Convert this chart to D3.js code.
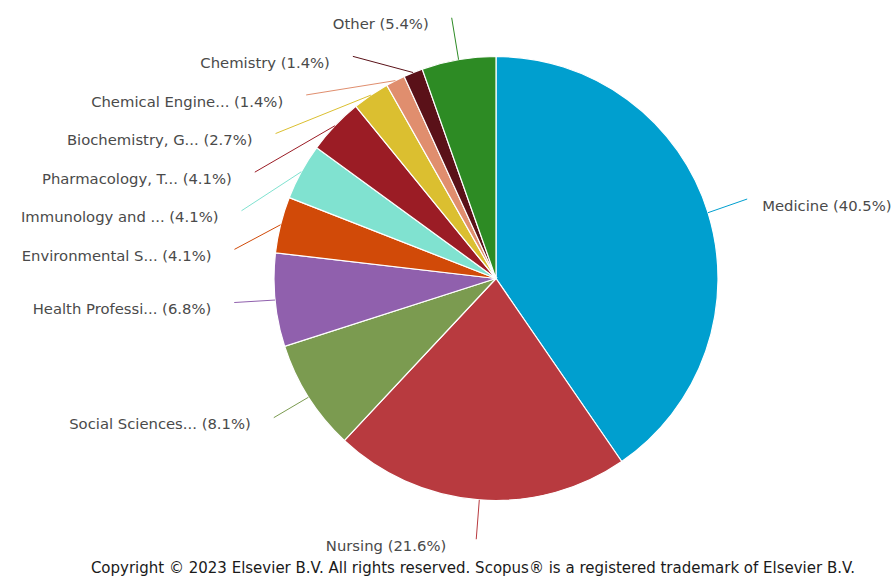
<!DOCTYPE html>
<html><head><meta charset="utf-8">
<script src="https://cdn.jsdelivr.net/npm/d3@7"></script>
<style>body{margin:0;background:#fff;}svg{display:block;}</style>
</head><body>
<svg id="c" width="893" height="576"></svg>
<script>
const labels = ["Medicine","Nursing","Social Sciences...","Health Professi...","Environmental S...","Immunology and ...","Pharmacology, T...","Biochemistry, G...","Chemical Engine...","Chemistry","Other"];
const percents = [40.5,21.6,8.1,6.8,4.1,4.1,4.1,2.7,1.4,1.4,5.4];
const colors = ["#009fcf","#b83a3f","#7b9b50","#9060ad","#d14a08","#80e2d0","#9b1c25","#dbbf30","#e08e6e","#5a1118","#2d8b24"];
const copyright = "Copyright © 2023 Elsevier B.V. All rights reserved. Scopus® is a registered trademark of Elsevier B.V.";

const svg = d3.select("#c");
const cx = 496, cy = 278.5, r = 222, R = 263, labelDy = -1.5, spacing = 38.6;
const data = labels.map((l,i)=>({label:l, value:percents[i], color:colors[i]}));
const pie = d3.pie().value(d=>d.value).sort(null);
const arcs = pie(data);
const arc = d3.arc().innerRadius(0).outerRadius(r);
const g = svg.append("g").attr("transform",`translate(${cx},${cy})`);
g.selectAll("path").data(arcs).join("path")
  .attr("d",arc).attr("fill",d=>d.data.color)
  .attr("stroke","#fff").attr("stroke-width",1.2);

// label layout
arcs.forEach(a=>{
  a.mid=(a.startAngle+a.endAngle)/2;
  a.side = Math.sin(a.mid) >= 0 ? 1 : -1;
  a.bottom = Math.cos(a.mid) < 0 && Math.abs(Math.sin(a.mid)) < 0.2;
  a.ny = -R*Math.cos(a.mid);
  a.ex = r*Math.sin(a.mid); a.ey = -r*Math.cos(a.mid);
});
const left = arcs.filter(a=>a.side<0 && !a.bottom).sort((a,b)=>a.ny-b.ny);
let prev=-Infinity;
left.forEach(a=>{ a.ly=Math.max(a.ny, prev+spacing); prev=a.ly; });
arcs.forEach(a=>{
  if(a.ly===undefined) a.ly=a.ny;
  a.lx = a.bottom ? R*Math.sin(a.mid) : a.side*Math.sqrt(Math.max(0,R*R-a.ly*a.ly));
  a.ly += labelDy;
});
const lg = g.append("g");
arcs.forEach(a=>{
  lg.append("path")
    .attr("d",`M${a.ex},${a.ey}L${a.lx},${a.ly}`)
    .attr("stroke",a.data.color).attr("stroke-width",1).attr("fill","none");
  lg.append("text")
    .attr("x", a.bottom ? a.lx-30 : a.lx + a.side*(a.side>0?15:23))
    .attr("y", a.ly+6.5)
    .attr("dy","0.35em")
    .attr("text-anchor", a.bottom ? "end" : (a.side>0?"start":"end"))
    .attr("font-family","DejaVu Sans, sans-serif").attr("font-size",14.8)
    .attr("fill","#4a4a4a")
    .text(`${a.data.label} (${a.data.value}%)`);
});
svg.append("text").attr("x",473).attr("y",568).attr("dy","0.35em")
  .attr("text-anchor","middle").attr("font-family","DejaVu Sans, sans-serif")
  .attr("font-size",15).attr("fill","#1a1a1a").text(copyright);
</script>
</body></html>
